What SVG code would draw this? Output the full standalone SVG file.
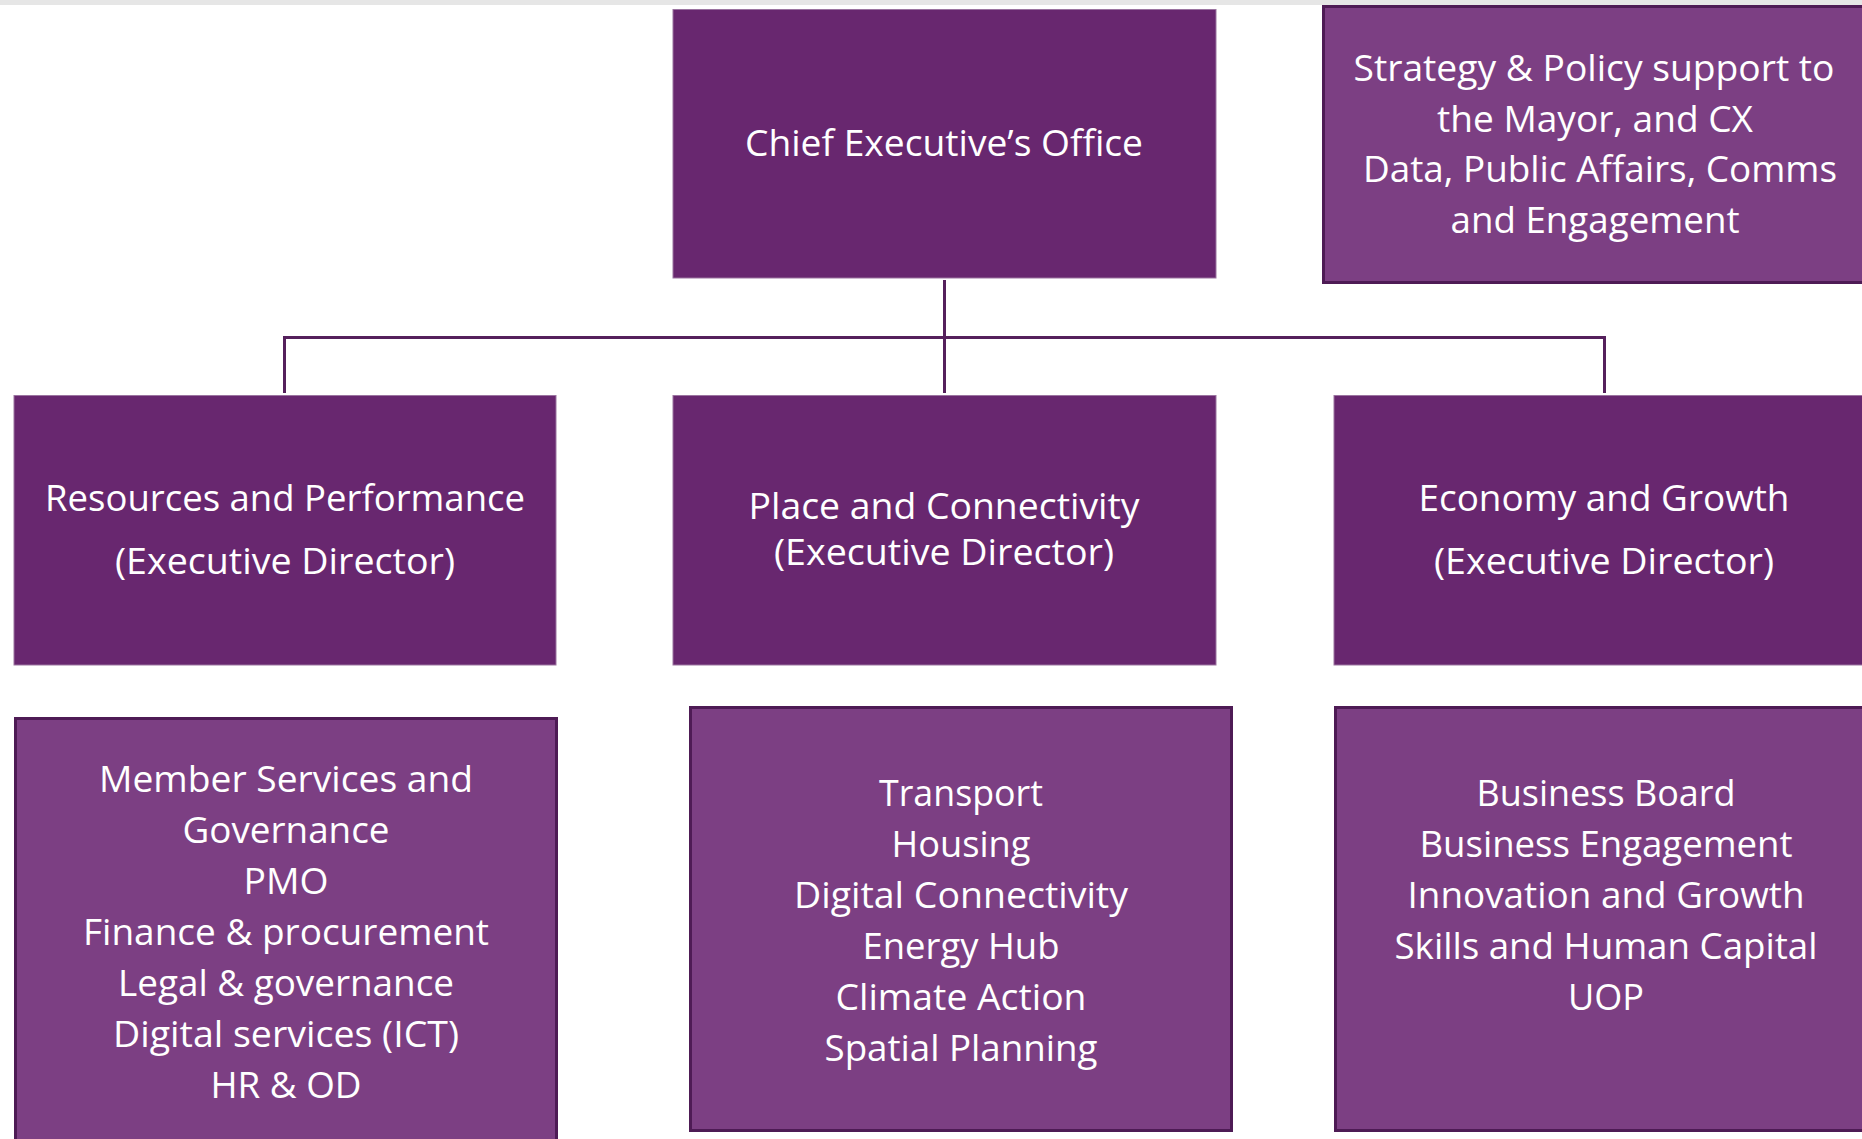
<svg xmlns="http://www.w3.org/2000/svg" width="1862" height="1139" viewBox="0 0 1862 1139">
<style>
.dk{fill:#68276f;stroke:#9b74a0;stroke-width:1}
.lt{fill:#7c3f83;stroke:#4e1b55;stroke-width:3}
text{font-family:"Open Sans","Noto Sans",sans-serif;font-size:37px;fill:#ffffff;text-anchor:middle}
.conn{stroke:#55205c;stroke-width:3;fill:none}
</style>
<rect x="0" y="0" width="1862" height="5" fill="#e6e6e6"/>
<g id="connectors">
<path class="conn" d="M944.5 280 V393"/>
<path class="conn" d="M284.5 393 V337.5 H1604.5 V393"/>
</g>
<g id="chief">
<rect class="dk" x="673" y="9.5" width="543" height="268.5"/>
<text x="944" y="156" textLength="398" lengthAdjust="spacingAndGlyphs">Chief Executive’s Office</text>
</g>
<g id="strategy">
<rect class="lt" x="1323.5" y="6.5" width="545" height="276"/>
<text x="1594" y="81" textLength="481" lengthAdjust="spacingAndGlyphs">Strategy &amp; Policy support to</text>
<text x="1595" y="131.5" textLength="316" lengthAdjust="spacingAndGlyphs">the Mayor, and CX</text>
<text x="1600" y="182" textLength="474" lengthAdjust="spacingAndGlyphs">Data, Public Affairs, Comms</text>
<text x="1595" y="232.5" textLength="289" lengthAdjust="spacingAndGlyphs">and Engagement</text>
</g>
<g id="resources">
<rect class="dk" x="14" y="395.5" width="542" height="269.5"/>
<text x="285" y="511" textLength="480" lengthAdjust="spacingAndGlyphs">Resources and Performance</text>
<text x="285" y="574" textLength="340" lengthAdjust="spacingAndGlyphs">(Executive Director)</text>
</g>
<g id="place">
<rect class="dk" x="673" y="395.5" width="543" height="269.5"/>
<text x="944" y="519" textLength="391" lengthAdjust="spacingAndGlyphs">Place and Connectivity</text>
<text x="944" y="565" textLength="340" lengthAdjust="spacingAndGlyphs">(Executive Director)</text>
</g>
<g id="economy">
<rect class="dk" x="1334" y="395.5" width="545" height="269.5"/>
<text x="1604" y="511" textLength="371" lengthAdjust="spacingAndGlyphs">Economy and Growth</text>
<text x="1604" y="574" textLength="340" lengthAdjust="spacingAndGlyphs">(Executive Director)</text>
</g>
<g id="resources-teams">
<rect class="lt" x="15.5" y="718.5" width="541" height="440"/>
<text x="286" y="792" textLength="374" lengthAdjust="spacingAndGlyphs">Member Services and</text>
<text x="286" y="843" textLength="207" lengthAdjust="spacingAndGlyphs">Governance</text>
<text x="286" y="894" textLength="85" lengthAdjust="spacingAndGlyphs">PMO</text>
<text x="286" y="945" textLength="406" lengthAdjust="spacingAndGlyphs">Finance &amp; procurement</text>
<text x="286" y="996" textLength="336" lengthAdjust="spacingAndGlyphs">Legal &amp; governance</text>
<text x="286" y="1047" textLength="346" lengthAdjust="spacingAndGlyphs">Digital services (ICT)</text>
<text x="286" y="1098" textLength="151" lengthAdjust="spacingAndGlyphs">HR &amp; OD</text>
</g>
<g id="place-teams">
<rect class="lt" x="690.5" y="707.5" width="541" height="423"/>
<text x="961" y="806" textLength="164" lengthAdjust="spacingAndGlyphs">Transport</text>
<text x="961" y="857" textLength="139" lengthAdjust="spacingAndGlyphs">Housing</text>
<text x="961" y="908" textLength="334" lengthAdjust="spacingAndGlyphs">Digital Connectivity</text>
<text x="961" y="959" textLength="197" lengthAdjust="spacingAndGlyphs">Energy Hub</text>
<text x="961" y="1010" textLength="251" lengthAdjust="spacingAndGlyphs">Climate Action</text>
<text x="961" y="1061" textLength="273" lengthAdjust="spacingAndGlyphs">Spatial Planning</text>
</g>
<g id="economy-teams">
<rect class="lt" x="1335.5" y="707.5" width="545" height="423"/>
<text x="1606" y="806" textLength="259" lengthAdjust="spacingAndGlyphs">Business Board</text>
<text x="1606" y="857" textLength="373" lengthAdjust="spacingAndGlyphs">Business Engagement</text>
<text x="1606" y="908" textLength="397" lengthAdjust="spacingAndGlyphs">Innovation and Growth</text>
<text x="1606" y="959" textLength="423" lengthAdjust="spacingAndGlyphs">Skills and Human Capital</text>
<text x="1606" y="1010" textLength="76" lengthAdjust="spacingAndGlyphs">UOP</text>
</g>
</svg>
